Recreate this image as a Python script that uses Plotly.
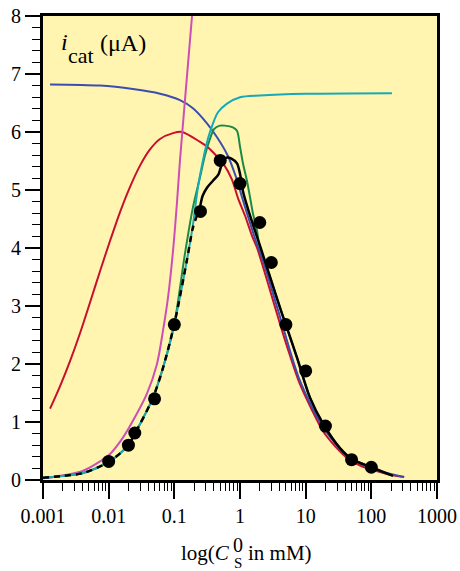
import plotly.graph_objects as go

# ---------------- data (concentration in mM, current in µA) ----------------
# lower branch shared by the dashed black, green and cyan curves
common_x = [0.001, 0.002, 0.0041, 0.01, 0.02, 0.0251, 0.0302, 0.0473, 0.0671, 0.1, 0.156, 0.192, 0.246]
common_y = [0.04, 0.07, 0.12, 0.31, 0.60, 0.81, 0.97, 1.42, 1.93, 2.69, 3.80, 4.35, 4.70]

black_x = [0.246, 0.27, 0.314, 0.388, 0.47, 0.52, 0.57, 0.634, 0.74, 0.9, 1.0, 1.109, 1.318,
           1.69, 2.014, 2.965, 4.355, 5.0, 7.38, 11.64, 18.4, 33.3, 50.7, 100, 214]
black_y = [4.70, 4.90, 5.04, 5.16, 5.27, 5.42, 5.52, 5.56, 5.54, 5.46, 5.28, 4.98, 4.68,
           4.30, 4.04, 3.45, 2.87, 2.68, 2.11, 1.42, 0.97, 0.55, 0.36, 0.22, 0.07]

green_x = [0.145, 0.192, 0.246, 0.293, 0.349, 0.402, 0.495, 0.59, 0.78, 0.9, 1.0, 1.109, 1.276,
           1.419, 1.578, 1.816, 1.945, 2.965, 4.355, 7.38, 11.64, 18.4, 33.3, 50.7, 100, 214]
green_y = [3.90, 4.70, 5.22, 5.60, 5.88, 6.05, 6.11, 6.11, 6.08, 6.02, 5.75, 5.46, 5.16,
           4.88, 4.59, 4.30, 4.08, 3.45, 2.87, 2.11, 1.42, 0.97, 0.55, 0.36, 0.22, 0.07]

cyan_x = [0.192, 0.229, 0.273, 0.326, 0.388, 0.462, 0.634, 1.0, 2.014, 10, 206]
cyan_y = [4.40, 5.05, 5.51, 5.89, 6.15, 6.34, 6.49, 6.60, 6.63, 6.66, 6.67]

blue_x = [0.00128, 0.00738, 0.0234, 0.0605, 0.1219, 0.192, 0.314, 0.447, 0.646, 0.871,
          1.07, 1.318, 1.698, 2.239, 3.98, 7.94, 18.2, 42.7, 100, 316]
blue_y = [6.82, 6.80, 6.74, 6.66, 6.55, 6.41, 6.15, 5.91, 5.60, 5.22,
          4.88, 4.55, 4.16, 3.78, 2.85, 1.75, 0.92, 0.42, 0.20, 0.05]

red_x = [0.00128, 0.00182, 0.00258, 0.00366, 0.0052, 0.00738, 0.01047, 0.0149, 0.0211, 0.030,
         0.0426, 0.0605, 0.0955, 0.131, 0.246, 0.314, 0.388, 0.575, 0.755, 0.931, 1.19, 1.524,
         1.82, 2.818, 4.07, 5.75, 8.13, 12.3, 18.2, 28.2, 42.7, 67.6, 107, 178, 316]
red_y = [1.23, 1.62, 2.05, 2.53, 3.06, 3.60, 4.12, 4.62, 5.05, 5.42,
         5.70, 5.88, 5.98, 6.00, 5.83, 5.75, 5.65, 5.43, 5.18, 4.86, 4.56, 4.21,
         4.00, 3.30, 2.69, 2.15, 1.66, 1.22, 0.85, 0.58, 0.38, 0.25, 0.17, 0.10, 0.05]

magenta_x = [0.001, 0.0041, 0.0105, 0.0165, 0.0234, 0.0383, 0.0544, 0.0671, 0.08, 0.0955,
             0.11, 0.1219, 0.1452, 0.186]
magenta_y = [0.03, 0.16, 0.45, 0.73, 1.02, 1.49, 2.00, 2.57, 3.14, 3.95,
             4.80, 5.51, 6.55, 8.00]

dots_x = [0.01, 0.02, 0.025, 0.05, 0.1, 0.25, 0.5, 1, 2, 3, 5, 10, 20, 50, 100]
dots_y = [0.32, 0.60, 0.81, 1.40, 2.68, 4.63, 5.51, 5.11, 4.44, 3.75, 2.68, 1.88, 0.93, 0.35, 0.22]

x_tickvals = [0.001, 0.01, 0.1, 1, 10, 100, 1000]
x_ticktext = ["0.001", "0.01", "0.1", "1", "10", "100", "1000"]
y_tickvals = [0, 1, 2, 3, 4, 5, 6, 7, 8]

# ---------------- styles ----------------
RED = "#c8102e"
BLUE = "#3c4db0"
MAGENTA = "#cc4fb5"
CYAN = "#17a9b8"
GREEN = "#1b8a45"
BG = "#fff5b0"
FONT = "Liberation Serif"

fig = go.Figure()

def line(x, y, color, width=2.0, dash=None):
    fig.add_trace(go.Scatter(x=x, y=y, mode="lines",
                             line=dict(color=color, width=width, shape="spline",
                                       smoothing=0.8, dash=dash),
                             hoverinfo="skip", showlegend=False))

line(red_x, red_y, RED)
line(blue_x, blue_y, BLUE)
line(magenta_x, magenta_y, MAGENTA)
line(common_x[:10] + green_x, common_y[:10] + green_y, GREEN)
line(common_x[:11] + cyan_x, common_y[:11] + cyan_y, CYAN)
line(black_x, black_y, "black", width=2.5)
line(common_x, common_y, "black", width=2.5, dash="6px,5px")

fig.add_trace(go.Scatter(x=dots_x, y=dots_y, mode="markers",
                         marker=dict(color="black", size=13),
                         hoverinfo="skip", showlegend=False))

# ---------------- layout ----------------
L, R, T, B = 43, 23, 16, 91
W, H = 460, 571
pw, ph = W - L - R, H - T - B

def px_x(px):
    return (px - L) / pw

def px_y(py):
    return (H - B - py) / ph

fig.update_layout(
    width=W, height=H,
    margin=dict(l=L, r=R, t=T, b=B, autoexpand=False),
    paper_bgcolor="white",
    plot_bgcolor=BG,
    font=dict(family=FONT, size=20, color="black"),
    xaxis=dict(type="log", range=[-3, 3], tickvals=x_tickvals, ticktext=x_ticktext,
               ticks="outside", ticklen=16, tickwidth=2, tickcolor="black",
               showline=True, linecolor="black", linewidth=3, mirror=True,
               showgrid=False, zeroline=False, automargin=False,
               minor=dict(ticks="outside", ticklen=8, tickwidth=1.2, tickcolor="black",
                          dtick="D1", showgrid=False),
               tickfont=dict(family=FONT, size=20)),
    yaxis=dict(range=[0, 8], tickvals=y_tickvals,
               ticks="outside", ticklen=15, tickwidth=2, tickcolor="black",
               showline=True, linecolor="black", linewidth=3, mirror=True,
               showgrid=False, zeroline=False, automargin=False,
               minor=dict(ticks="outside", ticklen=8, tickwidth=1.2, tickcolor="black",
                          dtick=0.2, showgrid=False),
               tickfont=dict(family=FONT, size=20)),
)

def ann(text, px, py, size, xanchor="left"):
    fig.add_annotation(text=text, xref="paper", yref="paper",
                       x=px_x(px), y=px_y(py), xanchor=xanchor, yanchor="middle",
                       showarrow=False, font=dict(family=FONT, size=size, color="black"),
                       borderpad=0)

# y label inside plot
ann("<i>i</i>", 60, 42, 24)
ann("cat", 67, 56, 22)
ann("(μA)", 99, 43, 24)

# x axis title with stacked super/subscript
ann("log(<i>C</i>", 231, 553, 21, xanchor="right")
ann("0", 232, 545, 20)
ann("S", 233, 563, 15)
ann("in mM)", 247, 553, 21)

fig.write_html("out.html", config={"displayModeBar": False},
               post_script="document.body.style.margin='0';document.body.style.overflow='hidden';")
